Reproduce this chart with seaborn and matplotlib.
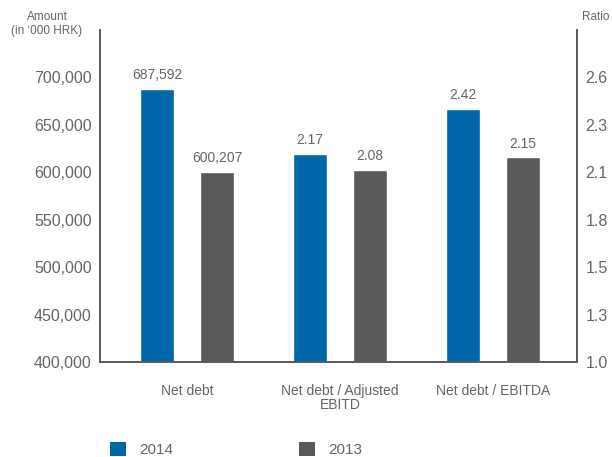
import matplotlib
matplotlib.use("Agg")
import matplotlib.pyplot as plt
from matplotlib.patches import Patch
from matplotlib.ticker import FixedLocator, FuncFormatter
import numpy as np
import pandas as pd
import seaborn as sns

# ---- data ----
categories = ["Net debt", "Net debt / Adjusted\nEBITD", "Net debt / EBITDA"]
years = ["2014", "2013"]
net_debt_2014 = 687592
net_debt_2013 = 600207
ratio_2014 = [2.17, 2.42]   # Adjusted EBITD, EBITDA
ratio_2013 = [2.08, 2.15]
amount_ticks = [400000, 450000, 500000, 550000, 600000, 650000, 700000]

amount_df = pd.DataFrame({
    "category": [categories[0], categories[0]],
    "year": years,
    "value": [net_debt_2014, net_debt_2013],
})
ratio_df = pd.DataFrame({
    "category": categories[1:] * 2,
    "year": [years[0]] * 2 + [years[1]] * 2,
    "value": ratio_2014 + ratio_2013,
})

# ---- style ----
sns.set_style("white")
plt.rcParams["font.family"] = ["Liberation Sans", "DejaVu Sans"]
text_col = "#666666"
spine_col = "#5c5c5c"
palette = {"2014": "#0067ab", "2013": "#58595b"}

fig = plt.figure(figsize=(6.12, 4.57), dpi=100)
ax = fig.add_axes([100 / 612, 95 / 457, 477 / 612, 332 / 457])
ax2 = ax.twinx()

# amount axis and ratio axis share the same baseline / scale mapping
amin, amax = 400000, 750000
rmin = 1.0
rmax = rmin + (amax - amin) / 300000 * 1.6

bar_kw = dict(x="category", y="value", hue="year", order=categories,
              hue_order=years, palette=palette, width=0.78, gap=0.43,
              legend=False, saturation=1)
sns.barplot(data=amount_df, ax=ax, **bar_kw)
sns.barplot(data=ratio_df, ax=ax2, **bar_kw)

ax.set_ylim(amin, amax)
ax2.set_ylim(rmin, rmax)
ax.set_xlim(-0.57, 2.55)

ax.yaxis.set_major_locator(FixedLocator(amount_ticks))
ax.yaxis.set_major_formatter(FuncFormatter(lambda v, p: f"{v:,.0f}"))
ratio_ticks = rmin + (np.array(amount_ticks) - amin) / 300000 * 1.6
ax2.yaxis.set_major_locator(FixedLocator(ratio_ticks))
ax2.yaxis.set_major_formatter(FuncFormatter(lambda v, p: f"{v:.1f}"))

for a in (ax, ax2):
    a.set_xlabel("")
    a.set_ylabel("")
    for s in a.spines.values():
        s.set_color(spine_col)
        s.set_linewidth(1.3)
    a.spines["top"].set_visible(False)
    a.tick_params(length=0, colors=text_col)

ax.tick_params(axis="y", labelsize=11.5, pad=6)
ax2.tick_params(axis="y", labelsize=11.5, pad=6)
ax.tick_params(axis="x", labelsize=10, pad=16)
for lab in ax.get_xticklabels():
    lab.set_linespacing(1.0)

# value labels
for c in ax.containers:
    ax.bar_label(c, labels=[f"{b.get_height():,.0f}" for b in c],
                 padding=5, fontsize=10, color=text_col)
for c in ax2.containers:
    ax2.bar_label(c, labels=[f"{b.get_height():.2f}" for b in c],
                  padding=5, fontsize=10, color=text_col)

# axis titles
fig.text(47 / 612, 1 - 24 / 457, "Amount\n(in \u2018000 HRK)", ha="center",
         va="center", fontsize=8.5, color=text_col, linespacing=1.3)
fig.text(596 / 612, 1 - 17 / 457, "Ratio", ha="center", va="center",
         fontsize=8.5, color=text_col)

# legend
handles = [Patch(facecolor=palette[y], edgecolor="none", label=y) for y in years]
fig.legend(handles=handles, loc="lower left", bbox_to_anchor=(96 / 612, -0.03),
           ncol=2, frameon=False, fontsize=11, labelcolor=text_col,
           handlelength=1.05, handleheight=1.05, handletextpad=0.9,
           columnspacing=8.2)

fig.savefig("out.png", dpi=100)
